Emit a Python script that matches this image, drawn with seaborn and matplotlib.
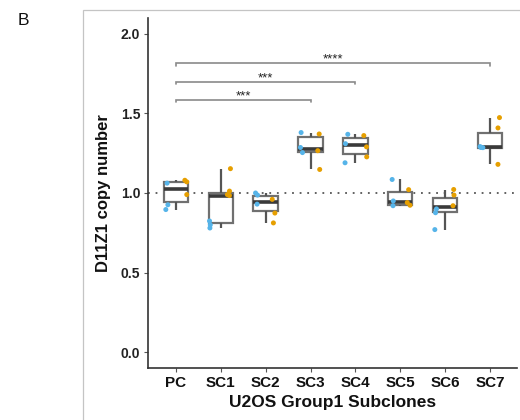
import numpy as np
import pandas as pd
import matplotlib
matplotlib.use("Agg")
import matplotlib.pyplot as plt
from matplotlib.patches import Rectangle
import seaborn as sns

# Subclone groups and per-replicate D11Z1 copy number measurements
groups = ["PC", "SC1", "SC2", "SC3", "SC4", "SC5", "SC6", "SC7"]
rep_a = {
    "PC":  [1.062, 0.926, 0.896],
    "SC1": [0.780, 0.800, 0.824],
    "SC2": [1.000, 0.987, 0.930],
    "SC3": [1.380, 1.286, 1.254],
    "SC4": [1.369, 1.310, 1.190],
    "SC5": [1.085, 0.950, 0.920],
    "SC6": [0.900, 0.876, 0.770],
    "SC7": [1.292, 1.286, 1.285],
}
rep_b = {
    "PC":  [1.080, 1.070, 0.990],
    "SC1": [0.984, 0.990, 1.012, 1.153],
    "SC2": [0.960, 0.874, 0.812],
    "SC3": [1.371, 1.266, 1.148],
    "SC4": [1.361, 1.290, 1.227],
    "SC5": [1.021, 0.940, 0.923],
    "SC6": [1.022, 0.987, 0.920],
    "SC7": [1.474, 1.409, 1.180],
}
y_ticks = [0.0, 0.5, 1.0, 1.5, 2.0]

# Significance comparisons against the parental clone
sig_pairs = [("PC", "SC3"), ("PC", "SC4"), ("PC", "SC7")]
sig_labels = ["***", "***", "****"]
sig_heights = [1.585, 1.700, 1.815]

rows = []
for g in groups:
    for v in rep_a[g]:
        rows.append((g, v, "A"))
    for v in rep_b[g]:
        rows.append((g, v, "B"))
df = pd.DataFrame(rows, columns=["clone", "copy", "rep"])

sns.set_theme(style="white")
plt.rcParams["font.family"] = ["Liberation Sans", "DejaVu Sans"]

fig = plt.figure(figsize=(5.2, 4.2), dpi=100)
ax = fig.add_axes([148 / 520, 1 - 368 / 420, (517 - 148) / 520, (368 - 18) / 420])

box_edge = "#707070"
sns.boxplot(
    data=df, x="clone", y="copy", order=groups, ax=ax,
    width=0.54, color="white", linecolor=box_edge, linewidth=1.6,
    showfliers=False,
    medianprops=dict(color="#3a3a3a", linewidth=2.6),
    whiskerprops=dict(color="#555555", linewidth=1.6),
    capprops=dict(linewidth=0),
)

np.random.seed(3)
sns.stripplot(
    data=df, x="clone", y="copy", hue="rep", order=groups, ax=ax,
    palette={"A": "#56B4E9", "B": "#E69F00"}, dodge=True, jitter=0.11,
    size=3.6, linewidth=0, legend=False, zorder=5,
)

# Reference line at a copy number of one
ax.axhline(1.0, color="#555555", linewidth=1.3, linestyle=(0, (1, 3.2)), zorder=1)

# Significance brackets
tick = 0.016
for (g1, g2), lab, h in zip(sig_pairs, sig_labels, sig_heights):
    x1, x2 = groups.index(g1), groups.index(g2)
    ax.plot([x1, x1, x2, x2], [h - tick, h, h, h - tick],
            color="#8a8a8a", linewidth=1.2, solid_joinstyle="miter")
    ax.text((x1 + x2) / 2, h + 0.004, lab, ha="center", va="baseline",
            fontsize=9.5, color="#222222")

ax.set_xlim(-0.62, 7.6)
ax.set_ylim(-0.1, 2.1)
ax.set_yticks(y_ticks)
ax.set_yticklabels([f"{t:.1f}" for t in y_ticks])

for side in ["top", "right"]:
    ax.spines[side].set_visible(False)
for side in ["left", "bottom"]:
    ax.spines[side].set_color("#333333")
    ax.spines[side].set_linewidth(1.2)

ax.tick_params(axis="both", which="both", length=3, width=0.8, color="#555555",
               direction="out", pad=2.5, left=True, bottom=True)
for lbl in ax.get_yticklabels():
    lbl.set_fontsize(10)
    lbl.set_fontweight("bold")
    lbl.set_color("#222222")
for lbl in ax.get_xticklabels():
    lbl.set_fontsize(11)
    lbl.set_fontweight("bold")
    lbl.set_color("#111111")

ax.set_xlabel("U2OS Group1 Subclones", fontsize=12.5, fontweight="bold",
              color="#111111", labelpad=4)
ax.set_ylabel("D11Z1 copy number", fontsize=12, fontweight="bold",
              color="#111111", labelpad=7)

# Panel frame and letter
fig.patches.append(Rectangle((82.5 / 520, -0.1), 1.2, 1 - 10 / 420 + 0.1,
                             transform=fig.transFigure, fill=False,
                             edgecolor="#c4c4c4", linewidth=0.9))
fig.text(18 / 520, 1 - 13 / 420, "B", fontsize=12.5, va="top", ha="left",
         color="#111111")

fig.savefig("out.png", dpi=100)
